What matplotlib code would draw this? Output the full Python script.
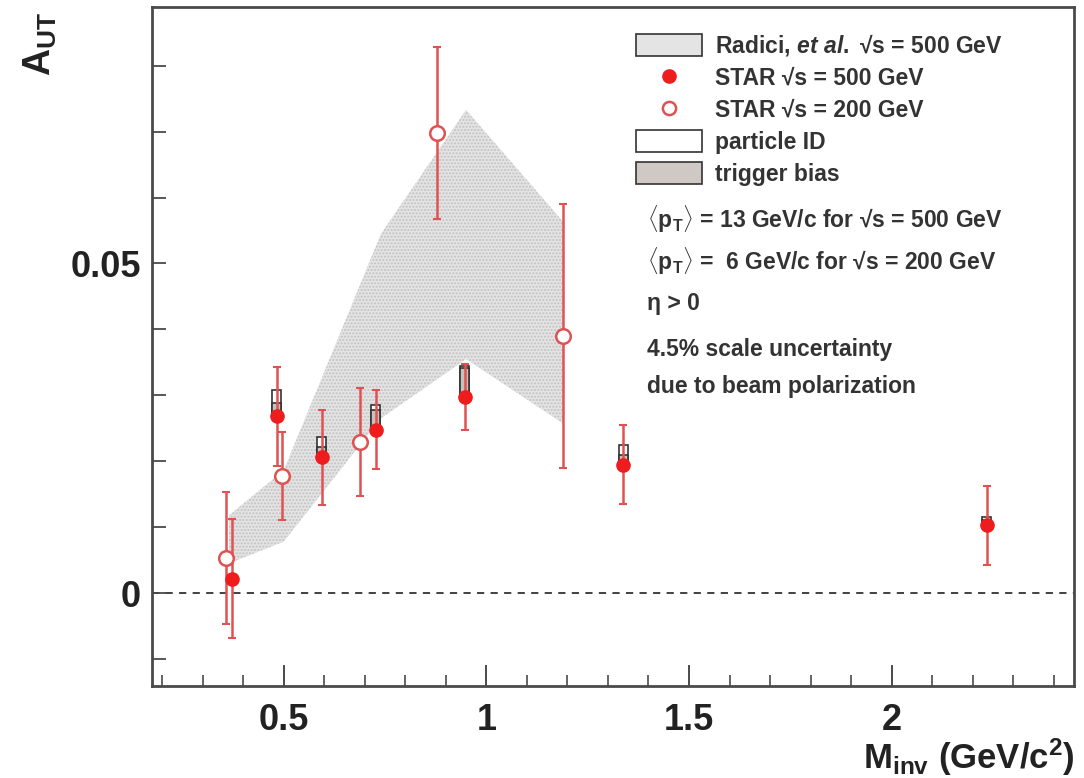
import matplotlib
matplotlib.use("Agg")
import matplotlib.pyplot as plt
from matplotlib.patches import Patch
from matplotlib.lines import Line2D
from matplotlib.ticker import FixedLocator, MultipleLocator

# STAR sqrt(s) = 500 GeV
x500 = [0.372, 0.483, 0.594, 0.727, 0.947, 1.338, 2.235]
y500 = [0.0022, 0.0268, 0.0206, 0.0248, 0.0297, 0.0195, 0.0103]
err500 = [0.0090, 0.0075, 0.0072, 0.0060, 0.0050, 0.0060, 0.0060]
pid500 = [0.0005, 0.0040, 0.0031, 0.0038, 0.0048, 0.0030, 0.0013]   # particle ID syst
trig500 = [0.0003, 0.0020, 0.0015, 0.0030, 0.0045, 0.0015, 0.0008]  # trigger bias syst

# STAR sqrt(s) = 200 GeV
x200 = [0.358, 0.497, 0.689, 0.879, 1.189]
y200 = [0.0053, 0.0178, 0.0229, 0.0698, 0.0390]
err200 = [0.0100, 0.0067, 0.0082, 0.0130, 0.0200]

# Radici et al. band
band_x = [0.365, 0.5, 0.74, 0.95, 1.19]
band_lo = [0.0045, 0.0078, 0.0265, 0.0355, 0.0257]
band_hi = [0.0118, 0.0186, 0.0545, 0.0733, 0.0563]

info_lines = [r"$\langle$p$_\mathbf{T}$$\rangle$ = 13 GeV/c for √s = 500 GeV",
              r"$\langle$p$_\mathbf{T}$$\rangle$ =  6 GeV/c for √s = 200 GeV",
              "η > 0",
              "4.5% scale uncertainty",
              "due to beam polarization"]

plt.rcParams['font.family'] = ['Liberation Sans', 'DejaVu Sans']
plt.rcParams['font.weight'] = 'bold'
plt.rcParams['mathtext.fontset'] = 'custom'
plt.rcParams['mathtext.rm'] = 'Liberation Sans:bold'
plt.rcParams['mathtext.bf'] = 'Liberation Sans:bold'
plt.rcParams['mathtext.it'] = 'Liberation Sans:bold:italic'
plt.rcParams['hatch.linewidth'] = 1.0

W, H = 1084, 778
fig = plt.figure(figsize=(W/100, H/100), dpi=100)
ax = fig.add_axes([152/W, 1-686/H, (1074-152)/W, (686-7)/H])

red = '#ee1c1c'
ered = '#e05252'
frame = '#4a4a4a'

# theory band
ax.fill_between(band_x, band_lo, band_hi, facecolor='#e4e4e4', edgecolor='#c2c2c2',
                hatch='.....', linewidth=0, zorder=1)

# zero line
ax.axhline(0, color='#333333', ls=(0, (4, 3.5)), lw=1.3, zorder=1.5)

# systematic boxes
bw = 0.022
ax.bar(x500, pid500, bottom=y500, width=bw, facecolor='white', edgecolor='#333333', lw=1.2, zorder=2)
ax.bar(x500, trig500, bottom=y500, width=bw, facecolor='#c9c1bd', edgecolor='#333333', lw=1.2, zorder=2.1)

# error bars + markers
ax.errorbar(x200, y200, yerr=err200, fmt='none', ecolor=ered, elinewidth=1.8, capsize=3, capthick=1.5, zorder=3)
ax.errorbar(x500, y500, yerr=err500, fmt='none', ecolor=ered, elinewidth=1.8, capsize=3, capthick=1.5, zorder=3)
ax.plot(x200, y200, 'o', ms=10.5, mfc='white', mec=ered, mew=1.8, zorder=4)
ax.plot(x500, y500, 'o', ms=9.5, mfc=red, mec=red, zorder=4)

ax.set_xlim(0.175, 2.45)
ax.set_ylim(-0.0141, 0.0889)

ax.xaxis.set_major_locator(FixedLocator([0.5, 1, 1.5, 2]))
ax.xaxis.set_minor_locator(MultipleLocator(0.1))
ax.set_xticklabels(['0.5', '1', '1.5', '2'])
ax.yaxis.set_major_locator(FixedLocator([0, 0.05]))
ax.yaxis.set_minor_locator(MultipleLocator(0.01))
ax.set_yticklabels(['0', '0.05'])

ax.tick_params(axis='x', which='major', direction='in', length=15, width=1.4, color=frame,
               labelsize=26, pad=12)
ax.tick_params(axis='x', which='minor', direction='in', length=8, width=1.2, color=frame)
ax.tick_params(axis='y', which='both', direction='in', length=10, width=1.3, color=frame,
               labelsize=26, pad=8)
for lab in ax.get_xticklabels() + ax.get_yticklabels():
    lab.set_fontweight('bold')
    lab.set_color('#222222')
for s in ax.spines.values():
    s.set_color(frame)
    s.set_linewidth(2)

fig.text(40/W, 1-12/H, r"A$_{\mathbf{UT}}$", rotation=90, ha='center', va='top',
         fontsize=27, fontweight='bold', color='#222222')
fig.text(1075/W, 1-769/H, r"M$_\mathbf{inv}$ (GeV/c$^\mathbf{2}$)", ha='right', va='baseline',
         fontsize=25, fontweight='bold', color='#222222')

handles = [Patch(facecolor='#e4e4e4', edgecolor='#333333', lw=1.2),
           Line2D([], [], ls='none', marker='o', ms=9.5, mfc=red, mec=red),
           Line2D([], [], ls='none', marker='o', ms=9.5, mfc='white', mec=ered, mew=1.8),
           Patch(facecolor='white', edgecolor='#333333', lw=1.2),
           Patch(facecolor='#cfc8c4', edgecolor='#333333', lw=1.2)]
labels = [r"Radici, $\mathit{et\ al.}$ √s = 500 GeV",
          "STAR √s = 500 GeV",
          "STAR √s = 200 GeV",
          "particle ID",
          "trigger bias"]
leg = ax.legend(handles, labels, loc='upper left', bbox_to_anchor=(636/W, 1-32/H),
                bbox_transform=fig.transFigure, frameon=False, fontsize=16.5,
                handlelength=2.9, handleheight=1.1, handletextpad=0.55,
                labelspacing=0.36, borderpad=0, borderaxespad=0)
for t in leg.get_texts():
    t.set_color('#333333')

info_y = [228, 270, 310, 356, 393]
for txt, yy in zip(info_lines, info_y):
    fig.text(647/W, 1-yy/H, txt, ha='left', va='baseline', fontsize=16.5,
             fontweight='bold', color='#333333')

fig.savefig('out.png', dpi=100)
